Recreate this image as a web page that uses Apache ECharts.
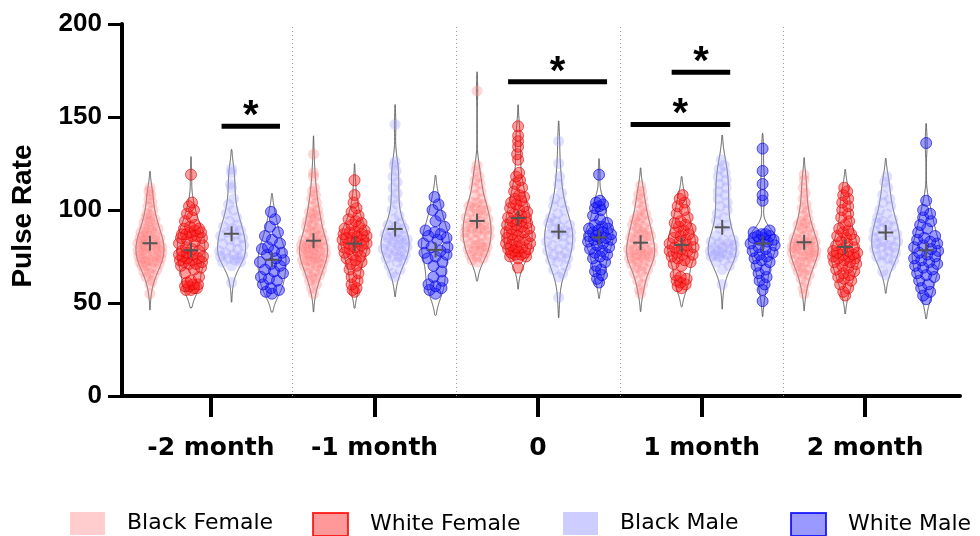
<!DOCTYPE html>
<html><head><meta charset="utf-8">
<script src="https://cdn.jsdelivr.net/npm/echarts@6/dist/echarts.min.js"></script>
<style>html,body{margin:0;padding:0;background:#fff}#c{width:980px;height:536px}</style>
</head><body><div id="c"></div>
<script>
// ---------- DATA ----------
const categories = ['-2 month', '-1 month', '0', '1 month', '2 month'];
const seriesNames = ['Black Female', 'White Female', 'Black Male', 'White Male'];
const yTicks = [0, 50, 100, 150, 200];

const blackFemale = [
  [55,60,62,64,65,66,67,68,69,70,70,71,72,72,72,73,73,74,74,75,75,76,76,77,77,78,78,79,79,80,80,80,81,81,82,82,83,83,84,84,85,85,86,86,87,88,88,89,90,90,91,92,93,94,95,96,97,98,100,102,104,106,108,110,112],
  [55,58,60,62,63,64,65,66,67,68,69,70,70,71,72,72,73,73,74,74,75,75,76,76,77,77,78,78,79,79,80,80,80,81,81,82,82,83,83,84,84,85,86,87,88,88,89,90,91,92,93,94,95,96,97,98,99,100,102,104,106,108,110,112,118,120,130],
  [72,73,74,75,76,77,78,78,79,80,80,81,82,82,83,84,85,86,86,87,88,88,89,90,90,90,91,92,92,93,94,95,95,96,97,98,99,100,100,101,102,103,104,104,106,108,110,112,114,116,118,121,124,164],
  [55,57,60,62,64,66,67,68,69,70,71,72,72,73,74,74,75,75,76,76,77,77,78,78,79,79,80,80,81,82,83,84,84,85,86,86,87,88,88,89,90,91,92,93,94,95,96,97,98,100,102,104,106,108,110,113],
  [55,58,61,63,65,66,67,68,69,70,71,72,72,73,74,75,75,76,76,77,77,78,78,79,79,80,80,81,81,82,82,83,83,84,84,85,86,87,88,89,90,91,92,93,94,95,97,99,101,103,106,109,112,116,119]
];
const whiteFemale = [
  [57,57,58,58,59,59,60,60,61,62,64,66,68,69,70,71,71,72,72,73,73,74,74,75,75,76,76,77,78,78,79,80,81,82,83,84,85,85,86,86,87,87,88,88,89,90,90,91,92,94,96,98,100,102,104,119],
  [56,57,58,60,62,64,66,68,70,71,72,73,74,75,76,77,78,78,79,80,80,81,82,82,83,84,84,85,85,86,86,87,87,88,88,89,90,91,92,93,94,95,97,99,101,104,108,116],
  [69,74,75,75,76,76,77,77,78,78,79,79,80,80,81,82,82,83,84,84,85,86,86,87,88,88,89,90,90,91,92,92,93,94,94,95,96,96,97,98,99,100,101,102,103,104,105,106,107,108,110,112,114,116,118,120,127,130,134,137,140,145],
  [58,59,60,61,62,63,64,65,70,71,72,73,74,75,76,76,77,78,78,79,80,80,81,82,83,84,84,85,86,87,88,89,90,91,92,93,94,96,98,100,102,104,106,108],
  [54,56,58,60,62,63,64,65,66,67,68,69,70,71,72,72,73,74,74,75,75,76,76,77,77,78,78,79,80,81,82,83,84,85,86,87,88,89,90,92,94,96,98,100,102,104,106,108,110,112]
];
const blackMale = [
  [61,70,72,72,73,74,74,75,76,76,77,78,79,80,81,82,83,84,85,86,87,88,89,90,91,92,94,96,98,100,103,106,112,114,120,122],
  [64,66,68,70,72,73,74,75,75,76,77,78,78,79,80,80,81,82,82,83,84,84,85,86,86,87,88,89,90,91,92,93,95,97,100,103,106,109,112,115,118,121,124,126,146],
  [53,64,66,68,70,72,73,74,75,76,77,78,79,80,81,82,83,84,85,86,87,88,88,89,90,91,92,93,94,95,96,98,100,102,104,106,109,114,118,125,137],
  [60,68,70,72,73,74,75,75,76,76,77,77,78,78,79,80,80,81,82,82,83,84,84,86,88,90,92,94,96,98,100,102,104,106,108,110,112,114,116,118,120,122,124,127],
  [65,67,70,72,73,74,75,76,77,78,79,80,80,81,82,83,83,84,85,86,87,88,89,90,91,92,93,94,95,96,98,100,102,104,106,108,112,115,118]
];
const whiteMale = [
  [55,56,57,58,60,62,63,64,66,67,68,70,71,72,73,74,76,77,78,79,80,82,84,86,88,91,95,99],
  [55,57,58,59,60,62,64,67,70,72,74,75,76,77,78,80,80,82,84,85,86,87,88,89,91,94,97,100,103,107],
  [61,63,65,67,68,70,72,74,75,76,77,78,79,80,81,82,83,84,84,85,85,86,86,87,88,88,89,90,90,91,92,93,95,97,100,101,102,103,104,105,119],
  [51,57,60,62,64,66,68,70,72,73,74,75,76,77,78,79,80,81,82,83,84,84,85,85,86,86,87,87,88,89,105,108,114,121,133],
  [52,54,56,58,60,62,64,65,66,68,69,70,71,72,73,74,75,76,77,78,79,80,81,82,83,84,85,86,88,90,92,94,96,98,100,105,136]
];

// significance comparisons: group index, first subgroup, second subgroup, bar height (Pulse Rate)
const sigGroup = [0, 2, 3, 3];
const sigFrom  = [2, 1, 1, 0];
const sigTo    = [3, 3, 2, 2];
const sigValue = [145, 169, 174, 146];
const sigLabel = ['*', '*', '*', '*'];

// ---------- LAYOUT / STYLE ----------
const allData = [blackFemale, whiteFemale, blackMale, whiteMale];
const subOffset = [-0.373, -0.122, 0.126, 0.373];
const X_MIN = -0.544, X_MAX = 4.58;
const HALFW = 14;      // violin max half width, px
const MIN_D = 9;       // swarm preferred spacing, px
const pointStyles = [
  {color: 'rgba(255,120,120,0.38)', borderWidth: 0},
  {color: 'rgba(255,30,30,0.55)', borderColor: 'rgba(225,0,0,0.75)', borderWidth: 1},
  {color: 'rgba(160,160,255,0.42)', borderWidth: 0},
  {color: 'rgba(30,30,255,0.55)', borderColor: 'rgba(0,0,225,0.8)', borderWidth: 1}
];
const legendStyles = [
  {color: '#FFC0C0', borderWidth: 0},
  {color: '#FF8080', borderColor: '#FF0000', borderWidth: 2},
  {color: '#C0C0FF', borderWidth: 0},
  {color: '#8080FF', borderColor: '#0000FF', borderWidth: 2}
];
const legendLeft = [70, 312, 563, 790];

const chart = echarts.init(document.getElementById('c'), null, {renderer: 'canvas'});

const baseOption = {
  animation: false,
  backgroundColor: '#fff',
  grid: {left: 122, right: 20, top: 24, bottom: 140, containLabel: false},
  xAxis: {
    type: 'value', min: X_MIN, max: X_MAX,
    axisLine: {show: true, onZero: false, lineStyle: {color: '#000', width: 4}},
    axisTick: {show: true, customValues: categories.map((c, i) => i), length: 21, lineStyle: {color: '#000', width: 4}},
    axisLabel: {
      customValues: categories.map((c, i) => i),
      formatter: v => categories[Math.round(v)],
      margin: 40, color: '#000', fontFamily: 'DejaVu Sans', fontWeight: 'bold', fontSize: 25
    },
    splitLine: {show: false}
  },
  yAxis: {
    type: 'value', min: yTicks[0], max: yTicks[yTicks.length - 1], interval: yTicks[1] - yTicks[0],
    axisLine: {show: true, onZero: false, lineStyle: {color: '#000', width: 4}},
    axisTick: {show: true, length: 14, lineStyle: {color: '#000', width: 3}},
    axisLabel: {margin: 20, color: '#000', fontFamily: 'Liberation Sans', fontWeight: 'bold', fontSize: 26},
    splitLine: {show: false}
  },
  legend: seriesNames.map((n, i) => ({
    data: [{name: n, icon: 'rect', itemStyle: legendStyles[i]}],
    left: legendLeft[i], top: 512, padding: 0,
    itemWidth: 35, itemHeight: 23, selectedMode: false,
    textStyle: {fontFamily: 'DejaVu Sans', fontSize: 22, color: '#000', padding: [0, 0, 0, 17]}
  })),
  graphic: [{
    type: 'text', x: 23, y: 216, rotation: Math.PI / 2,
    style: {text: 'Pulse Rate', font: 'bold 28px "Liberation Sans"', fill: '#000', align: 'center', verticalAlign: 'middle'}
  }],
  series: []
};
chart.setOption(baseOption);

// pixel scales from the library
let pxX = (980 - 122 - 20) / (X_MAX - X_MIN), pxY = (536 - 24 - 140) / 200;
try {
  const a = chart.convertToPixel({gridIndex: 0}, [0, 0]);
  const b = chart.convertToPixel({gridIndex: 0}, [1, 100]);
  if (a && b && isFinite(b[0] - a[0]) && b[0] !== a[0]) { pxX = b[0] - a[0]; pxY = (a[1] - b[1]) / 100; }
} catch (e) {}

// ---------- KDE & SWARM ----------
function kde(vals) {
  const n = vals.length;
  const s = vals.slice().sort((a, b) => a - b);
  const mean = s.reduce((a, b) => a + b, 0) / n;
  const sd = Math.sqrt(s.reduce((a, b) => a + (b - mean) * (b - mean), 0) / (n - 1));
  const q1 = s[Math.floor(0.25 * (n - 1))], q3 = s[Math.floor(0.75 * (n - 1))];
  const spread = Math.min(sd, (q3 - q1) / 1.34 || sd);
  const h = 0.95 * spread * Math.pow(n, -0.2);
  const lo = s[0] - 1.7 * h, hi = s[n - 1] + 1.7 * h;
  const N = 240, ys = [], d = [];
  for (let i = 0; i <= N; i++) {
    const y = lo + (hi - lo) * i / N;
    let t = 0;
    for (const v of s) t += Math.exp(-0.5 * ((y - v) / h) ** 2);
    ys.push(y); d.push(t);
  }
  const m = Math.max(...d);
  const ws = d.map(x => x / m);
  ws[0] = 0; ws[N] = 0;
  return {ys, ws, lo, hi, mean};
}
function widthAt(k, v) {
  const t = (v - k.lo) / (k.hi - k.lo) * (k.ys.length - 1);
  const i = Math.max(0, Math.min(k.ys.length - 2, Math.floor(t)));
  const f = t - i;
  return k.ws[i] * (1 - f) + k.ws[i + 1] * f;
}
function swarm(vals, k) {
  const order = vals.map((v, i) => i).sort((a, b) => vals[a] - vals[b]);
  const placed = [], dx = new Array(vals.length);
  let flip = 1;
  for (const i of order) {
    const y = vals[i] * pxY;
    const wmax = Math.max(0, widthAt(k, vals[i]) * HALFW - 1.5);
    let best = 0, bestScore = -1;
    outer:
    for (let st = 0; st <= wmax; st += 1) {
      const sides = st === 0 ? [0] : [flip * st, -flip * st];
      for (const x of sides) {
        let md = Infinity;
        for (const p of placed) {
          const dy = p[1] - y;
          if (Math.abs(dy) < MIN_D) { const dd = Math.hypot(p[0] - x, dy); if (dd < md) md = dd; }
        }
        if (md >= MIN_D) { best = x; bestScore = Infinity; break outer; }
        if (md > bestScore) { bestScore = md; best = x; }
      }
    }
    flip = -flip;
    dx[i] = best; placed.push([best, y]);
  }
  return dx;
}

const kdes = allData.map(series => series.map(vals => kde(vals)));

// ---------- SERIES ----------
const violinData = [], meanData = [];
allData.forEach((series, s) => series.forEach((vals, g) => {
  violinData.push([g + subOffset[s], kdes[s][g].mean, s, g]);
  meanData.push([g + subOffset[s], kdes[s][g].mean]);
}));

const series = [];
series.push({
  type: 'custom', name: 'violins', z: 1, silent: true, clip: false,
  encode: {x: 0, y: 1},
  data: violinData,
  renderItem: (params, api) => {
    const xc = api.value(0), s = api.value(2), g = api.value(3);
    const k = kdes[s][g];
    const right = [], left = [];
    for (let i = 0; i < k.ys.length; i++) {
      const p = api.coord([xc, k.ys[i]]);
      const w = k.ws[i] * HALFW;
      right.push([p[0] + w, p[1]]); left.push([p[0] - w, p[1]]);
    }
    return {type: 'polygon', shape: {points: right.concat(left.reverse())},
      style: {fill: 'none', stroke: '#5a5a5a', lineWidth: 1}};
  },
  markLine: {
    silent: true, symbol: 'none', label: {show: false}, animation: false,
    lineStyle: {type: [1, 3], color: '#9a9a9a', width: 1},
    emphasis: {disabled: true},
    data: categories.slice(1).map((c, i) => ({xAxis: i + 0.5}))
  }
});

allData.forEach((seriesVals, s) => {
  const pts = [];
  seriesVals.forEach((vals, g) => {
    const dx = swarm(vals, kdes[s][g]);
    vals.forEach((v, i) => pts.push([g + subOffset[s] + dx[i] / pxX, v]));
  });
  series.push({
    type: 'scatter', name: seriesNames[s], z: 2, symbol: 'circle', symbolSize: 11,
    itemStyle: pointStyles[s], data: pts, silent: true
  });
});

series.push({
  type: 'custom', name: 'means', z: 3, silent: true, encode: {x: 0, y: 1},
  data: meanData,
  renderItem: (params, api) => {
    const p = api.coord([api.value(0), api.value(1)]);
    const st = {stroke: '#555', lineWidth: 2};
    return {type: 'group', children: [
      {type: 'line', shape: {x1: p[0] - 7.5, y1: p[1], x2: p[0] + 7.5, y2: p[1]}, style: st},
      {type: 'line', shape: {x1: p[0], y1: p[1] - 7.5, x2: p[0], y2: p[1] + 7.5}, style: st}
    ]};
  }
});

series.push({
  type: 'custom', name: 'significance', z: 4, silent: true, clip: false, encode: {x: [0, 1], y: 2},
  data: sigGroup.map((g, i) => [g + subOffset[sigFrom[i]], g + subOffset[sigTo[i]], sigValue[i], i]),
  renderItem: (params, api) => {
    const a = api.coord([api.value(0), api.value(2)]);
    const b = api.coord([api.value(1), api.value(2)]);
    const x1 = a[0] - 10, x2 = b[0] + 8;
    return {type: 'group', children: [
      {type: 'rect', shape: {x: x1, y: a[1] - 2.5, width: x2 - x1, height: 5}, style: {fill: '#000'}},
      {type: 'text', x: (x1 + x2) / 2, y: a[1] - 9,
        style: {text: sigLabel[api.value(3)], font: 'bold 40px "Liberation Sans"', fill: '#000', align: 'center', verticalAlign: 'middle'}}
    ]};
  }
});

chart.setOption({series: series});
</script>
</body></html>
